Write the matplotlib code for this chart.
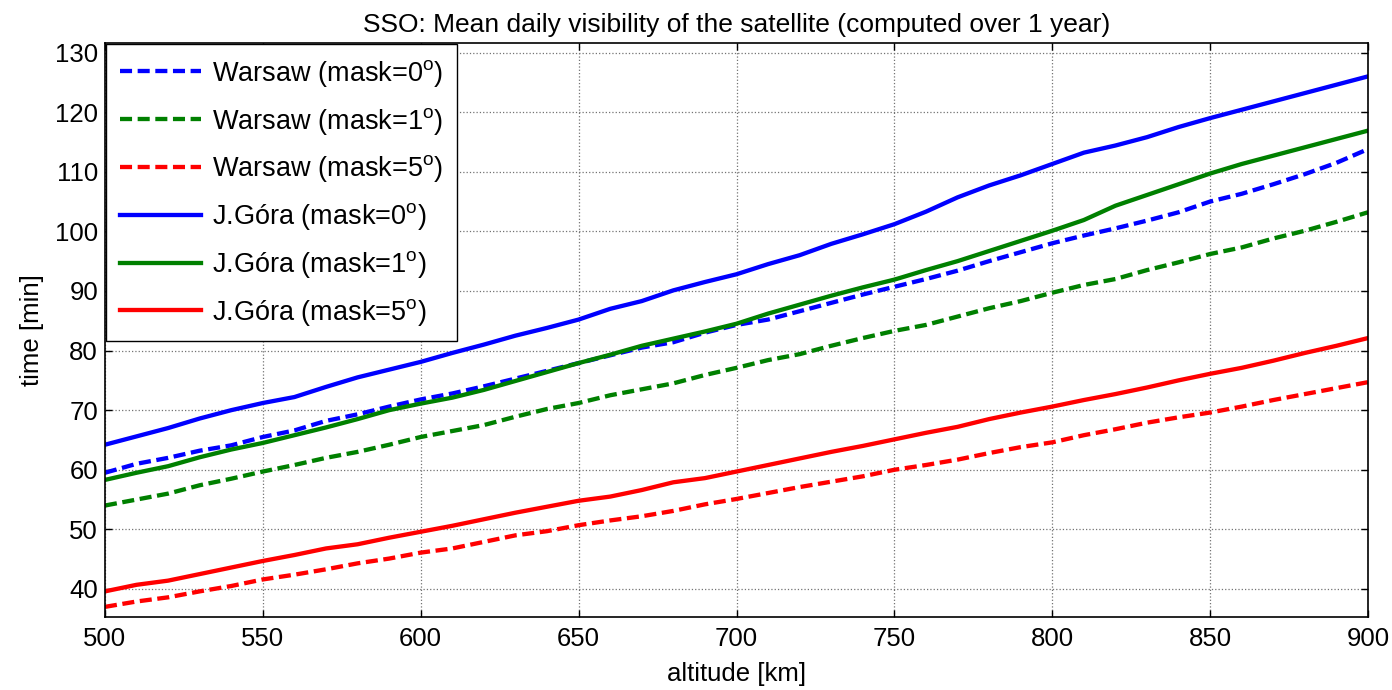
import numpy as np
import matplotlib
matplotlib.use("Agg")
import matplotlib.pyplot as plt

plt.rcParams['font.family'] = ['Liberation Sans', 'DejaVu Sans']
plt.rcParams['mathtext.fontset'] = 'custom'
plt.rcParams['mathtext.rm'] = 'Liberation Sans'

altitude = list(range(500, 901, 10))

# Warsaw station
warsaw_m0 = [59.5, 61.0, 62.0, 63.2, 64.1, 65.5, 66.6, 68.2, 69.3, 70.6,
             71.8, 72.8, 74.0, 75.3, 76.6, 77.9, 79.2, 80.5, 81.4, 83.0,
             84.3, 85.2, 86.6, 88.0, 89.4, 90.7, 92.0, 93.4, 95.0, 96.5,
             98.0, 99.3, 100.5, 101.8, 103.2, 105.0, 106.3, 107.9, 109.6, 111.5,
             113.8]
warsaw_m1 = [54.0, 55.0, 56.0, 57.4, 58.5, 59.7, 60.8, 62.0, 63.0, 64.2,
             65.5, 66.5, 67.5, 68.9, 70.2, 71.2, 72.5, 73.5, 74.5, 75.9,
             77.1, 78.4, 79.4, 80.8, 82.1, 83.3, 84.3, 85.7, 87.1, 88.3,
             89.7, 91.0, 92.0, 93.5, 94.8, 96.2, 97.3, 98.8, 100.1, 101.6,
             103.2]
warsaw_m5 = [37.0, 37.9, 38.6, 39.6, 40.5, 41.6, 42.4, 43.3, 44.3, 45.1,
             46.1, 46.8, 47.9, 49.0, 49.7, 50.7, 51.5, 52.2, 53.1, 54.2,
             55.1, 56.1, 57.1, 58.0, 58.9, 60.0, 60.8, 61.7, 62.8, 63.8,
             64.6, 65.8, 66.8, 67.9, 68.8, 69.6, 70.6, 71.7, 72.7, 73.7,
             74.7]

# Jelenia Gora station
jgora_m0 = [64.2, 65.6, 67.0, 68.6, 70.0, 71.2, 72.2, 73.9, 75.5, 76.8,
            78.1, 79.6, 81.0, 82.5, 83.8, 85.2, 87.0, 88.3, 90.1, 91.5,
            92.8, 94.5, 96.0, 97.9, 99.5, 101.2, 103.3, 105.7, 107.7, 109.4,
            111.3, 113.2, 114.4, 115.8, 117.5, 119.0, 120.4, 121.8, 123.2, 124.6,
            126.0]
jgora_m1 = [58.3, 59.5, 60.6, 62.1, 63.4, 64.5, 65.8, 67.1, 68.5, 70.0,
            71.1, 72.1, 73.4, 74.9, 76.4, 77.9, 79.3, 80.8, 82.0, 83.2,
            84.5, 86.2, 87.7, 89.2, 90.6, 91.9, 93.5, 95.0, 96.7, 98.4,
            100.1, 101.9, 104.3, 106.1, 107.9, 109.7, 111.3, 112.7, 114.1, 115.5,
            116.9]
jgora_m5 = [39.6, 40.7, 41.4, 42.5, 43.6, 44.7, 45.7, 46.8, 47.5, 48.6,
            49.6, 50.6, 51.7, 52.8, 53.8, 54.8, 55.5, 56.6, 57.9, 58.6,
            59.7, 60.8, 61.9, 63.0, 64.0, 65.1, 66.2, 67.2, 68.5, 69.6,
            70.6, 71.7, 72.7, 73.8, 75.0, 76.1, 77.1, 78.3, 79.6, 80.8,
            82.1]

labels = [r'Warsaw (mask=0$^{\mathrm{o}}$)', r'Warsaw (mask=1$^{\mathrm{o}}$)',
          r'Warsaw (mask=5$^{\mathrm{o}}$)', r'J.Góra (mask=0$^{\mathrm{o}}$)',
          r'J.Góra (mask=1$^{\mathrm{o}}$)', r'J.Góra (mask=5$^{\mathrm{o}}$)']

blue = (0, 0, 1)
green = (0, 0.5, 0)
red = (1, 0, 0)

fig = plt.figure(figsize=(13.92, 6.9), dpi=100)
ax = fig.add_axes([0.0754, 0.1058, 0.9074, 0.8319])

lw = 3.1
series = [(warsaw_m0, blue, '--'), (warsaw_m1, green, '--'), (warsaw_m5, red, '--'),
          (jgora_m0, blue, '-'), (jgora_m1, green, '-'), (jgora_m5, red, '-')]
for (vals, col, ls), lab in zip(series, labels):
    line, = ax.plot(altitude, vals, color=col, lw=lw, linestyle=ls, label=lab)
    if ls == '--':
        line.set_dashes([2.8, 1.3])

ax.set_xlim(500, 900)
ax.set_ylim(35.3, 131.6)
ax.set_xticks(range(500, 901, 50))
ax.set_yticks(range(40, 131, 10))
ax.grid(True, linestyle=':', color='0.45', linewidth=0.9)
ax.tick_params(direction='in', length=5, width=1, top=True, right=True,
               labelsize=18.5, pad=7)
ax.tick_params(axis='y', pad=5)
for sp in ax.spines.values():
    sp.set_linewidth(1.2)

ax.set_xlabel('altitude [km]', fontsize=18.5, labelpad=8)
ax.set_ylabel('time [min]', fontsize=18.5, labelpad=8)
ax.set_title('SSO: Mean daily visibility of the satellite (computed over 1 year)',
             fontsize=19, pad=8)

leg = ax.legend(loc='upper left', bbox_to_anchor=(0, 1), borderaxespad=0.05,
                fontsize=19.5, frameon=True, fancybox=False, framealpha=1,
                edgecolor='black', handlelength=3.0, handletextpad=0.4,
                labelspacing=0.62, borderpad=0.5)
leg.get_frame().set_linewidth(1.0)

fig.savefig('out.png', dpi=100)
